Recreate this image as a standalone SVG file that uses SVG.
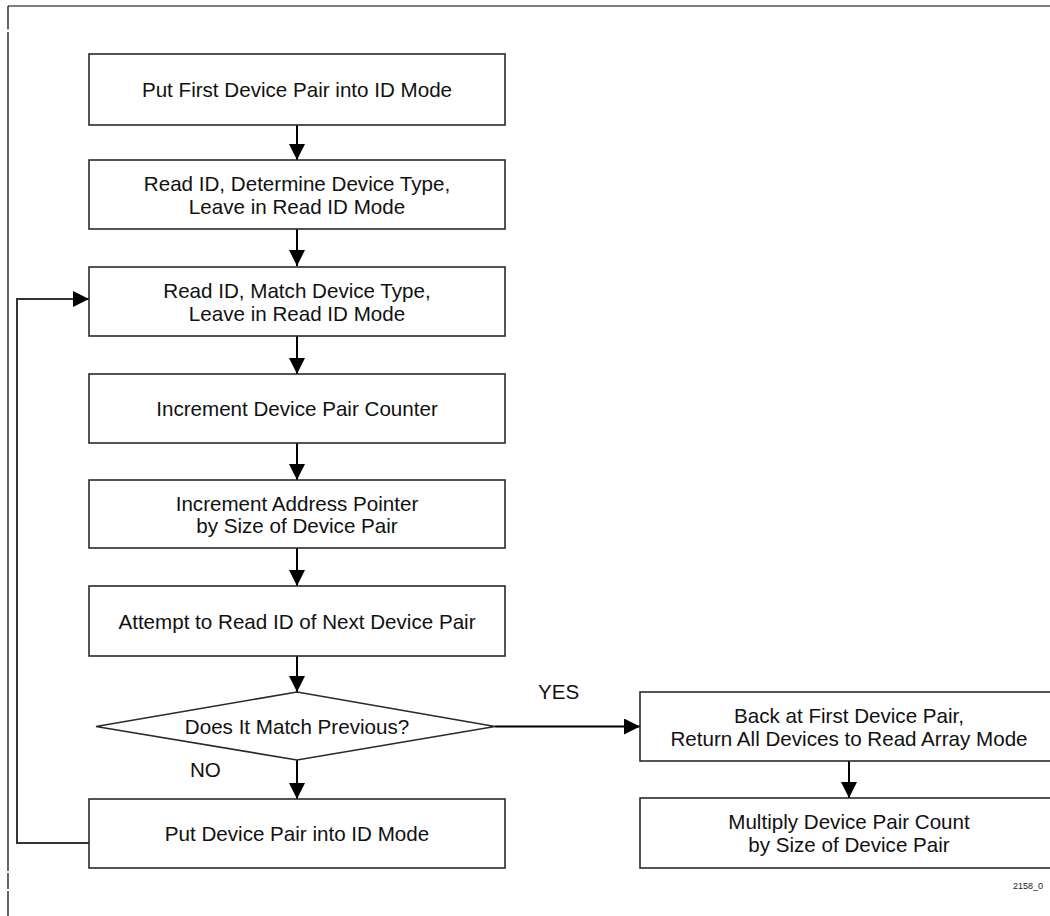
<svg xmlns="http://www.w3.org/2000/svg" width="1050" height="916" viewBox="0 0 1050 916">
<defs>
<marker id="ah" viewBox="0 0 16 16" refX="16" refY="8" markerWidth="16" markerHeight="16" markerUnits="userSpaceOnUse" orient="auto">
<path d="M0,0 L16,8 L0,16 Z" fill="#000"/>
</marker>
<style>
.box{fill:#fff;stroke:#2a2a2a;stroke-width:1.6}
.t{font-family:"Liberation Sans",Arial,sans-serif;font-size:20.6px;fill:#111;text-anchor:middle}
.lbl{font-family:"Liberation Sans",Arial,sans-serif;font-size:20.6px;fill:#111}
.c{fill:none;stroke:#000;stroke-width:2}
.loop{fill:none;stroke:#333;stroke-width:2}
.frame{stroke:#000;stroke-width:1.2;fill:none}
</style>
</defs>
<rect width="1050" height="916" fill="#fff"/>
<g id="frame">
<line class="frame" x1="8" y1="6" x2="1050" y2="6"/>
<line class="frame" x1="8" y1="6" x2="8" y2="29.5"/>
<line class="frame" x1="8" y1="32" x2="8" y2="871"/>
<line class="frame" x1="8" y1="873" x2="8" y2="889"/>
<line class="frame" x1="8" y1="891" x2="8" y2="916"/>
</g>
<g id="connectors">
<line class="c" x1="297" y1="125" x2="297" y2="160" marker-end="url(#ah)"/>
<line class="c" x1="297" y1="229" x2="297" y2="266" marker-end="url(#ah)"/>
<line class="c" x1="297" y1="336" x2="297" y2="374" marker-end="url(#ah)"/>
<line class="c" x1="297" y1="443" x2="297" y2="480" marker-end="url(#ah)"/>
<line class="c" x1="297" y1="548" x2="297" y2="586" marker-end="url(#ah)"/>
<line class="c" x1="297" y1="656" x2="297" y2="692" marker-end="url(#ah)"/>
<line class="c" x1="297" y1="760" x2="297" y2="799" marker-end="url(#ah)"/>
<line class="c" x1="495" y1="726.5" x2="640" y2="726.5" marker-end="url(#ah)"/>
<line class="c" x1="849" y1="761" x2="849" y2="798" marker-end="url(#ah)"/>
<path class="loop" d="M89,843 H17 V299 H89" marker-end="url(#ah)"/>
</g>
<g id="n1">
<rect class="box" x="89" y="54" width="416" height="71"/>
<text class="t" x="297" y="97">Put First Device Pair into ID Mode</text>
</g>
<g id="n2">
<rect class="box" x="89" y="160" width="416" height="69"/>
<text class="t" x="297" y="191">Read ID, Determine Device Type,</text>
<text class="t" x="297" y="213.5">Leave in Read ID Mode</text>
</g>
<g id="n3">
<rect class="box" x="89" y="267" width="416" height="69"/>
<text class="t" x="297" y="298">Read ID, Match Device Type,</text>
<text class="t" x="297" y="320.5">Leave in Read ID Mode</text>
</g>
<g id="n4">
<rect class="box" x="89" y="374" width="416" height="69"/>
<text class="t" x="297" y="416">Increment Device Pair Counter</text>
</g>
<g id="n5">
<rect class="box" x="89" y="480" width="416" height="68"/>
<text class="t" x="297" y="510.5">Increment Address Pointer</text>
<text class="t" x="297" y="533">by Size of Device Pair</text>
</g>
<g id="n6">
<rect class="box" x="89" y="586" width="416" height="70"/>
<text class="t" x="297" y="628.5">Attempt to Read ID of Next Device Pair</text>
</g>
<g id="d1">
<polygon class="box" points="297,692 495,726.5 297,760 96,726.5"/>
<text class="t" x="297" y="734">Does It Match Previous?</text>
</g>
<g id="n7">
<rect class="box" x="89" y="799" width="416" height="69"/>
<text class="t" x="297" y="841">Put Device Pair into ID Mode</text>
</g>
<g id="r1">
<rect class="box" x="640" y="692" width="418" height="69"/>
<text class="t" x="849" y="723">Back at First Device Pair,</text>
<text class="t" x="849" y="745.5">Return All Devices to Read Array Mode</text>
</g>
<g id="r2">
<rect class="box" x="640" y="798" width="418" height="70"/>
<text class="t" x="849" y="829">Multiply Device Pair Count</text>
<text class="t" x="849" y="851.5">by Size of Device Pair</text>
</g>
<g id="labels">
<text class="lbl" x="538" y="699">YES</text>
<text class="lbl" x="190" y="777">NO</text>
<text x="1013" y="889" font-family="Liberation Sans, Arial, sans-serif" font-size="9" fill="#222">2158_0</text>
</g>
</svg>
